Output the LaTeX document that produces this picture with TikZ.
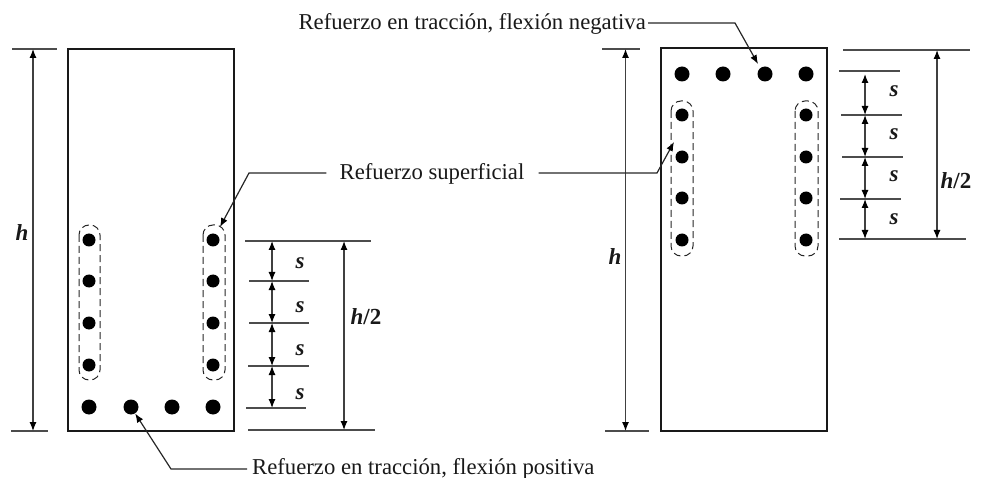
\documentclass[tikz,border=0pt]{standalone}
\usepackage{fontspec}
\setmainfont{Liberation Serif}
\usetikzlibrary{arrows.meta}
\tikzset{
  x=1pt,y=-1pt,
  beam/.style={draw=black!90,line width=2.2pt},
  bar/.style={circle,fill=black,inner sep=0pt,minimum size=#1},
  tie/.style={draw=black!85,dash pattern=on 7pt off 4pt,line width=1pt,rounded corners=10pt},
  dimline/.style={draw=black!70,line width=1.3pt},
  dimarrow/.style={draw=black!75,line width=1.2pt,{Latex[length=9pt,width=7pt,black]}-{Latex[length=9pt,width=7pt,black]}},
  leader/.style={draw=black!85,line width=1.2pt},
  leaderarrow/.style={leader,-{Latex[length=9pt,width=7pt,black]}},
  lab/.style={font=\fontsize{22.7}{26}\selectfont,inner sep=0pt,text=black!90},
  sym/.style={font=\fontsize{23}{26}\selectfont\bfseries\itshape,inner sep=0pt,text=black!90},
  dimnum/.style={font=\fontsize{23}{26}\selectfont\bfseries,inner sep=0pt,text=black!90},
}
\begin{document}
\begin{tikzpicture}
\useasboundingbox (0,0) rectangle (982,478);
% left beam
\draw[beam] (68,49) rectangle (234,431);
\foreach \n/\x in {a/89,b/131,c/172,d/213}{\node[bar=15pt] (L\n) at (\x,407) {};}
\foreach \n/\y in {1/240,2/281,3/323,4/365}{
  \node[bar=13pt] (LL\n) at (89,\y) {};
  \node[bar=13pt] (LR\n) at (213,\y) {};
}
\draw[tie] (79,225) rectangle (100,380);
\draw[tie] (203,225) rectangle (225,380);
% left h
\coordinate (lht0) at (12,49); \coordinate (lht1) at (57,49);
\coordinate (lhb0) at (11,431); \coordinate (lhb1) at (48,431);
\draw[dimline] (lht0)--(lht1);
\draw[dimline] (lhb0)--(lhb1);
\draw[dimarrow] (33,49)--(33,431);
\node[sym] (lh) at (22,233) {h};
% left spacing
\coordinate (a0) at (245,241); \coordinate (a1) at (371,241);
\coordinate (b0) at (249,281); \coordinate (b1) at (309,281);
\coordinate (c0) at (249,323); \coordinate (c1) at (309,323);
\coordinate (d0) at (248,366); \coordinate (d1) at (309,366);
\coordinate (e0) at (246,408); \coordinate (e1) at (306,408);
\coordinate (f0) at (248,430); \coordinate (f1) at (375,430);
\foreach \p in {a,b,c,d,e,f}{\draw[dimline] (\p0)--(\p1);}
\draw[dimarrow] (272,241)--(272,281);
\draw[dimarrow] (272,281)--(272,323);
\draw[dimarrow] (272,323)--(272,366);
\draw[dimarrow] (272,366)--(272,408);
\draw[dimarrow] (344,241)--(344,430);
\foreach \n/\y in {1/263,2/307,3/350,4/394}{\node[sym] (ls\n) at (300,\y) {s};}
\node[dimnum] (lh2) at (366,317) {\textit{h}/2};
% right beam
\draw[beam] (661,48) rectangle (827,431);
\foreach \n/\x in {a/682,b/723,c/765,d/806}{\node[bar=15pt] (R\n) at (\x,74) {};}
\foreach \n/\y in {1/115,2/157,3/198,4/240}{
  \node[bar=13pt] (RL\n) at (682,\y) {};
  \node[bar=13pt] (RR\n) at (806,\y) {};
}
\draw[tie] (671,101) rectangle (693,256);
\draw[tie] (795,101) rectangle (818,256);
% right h
\coordinate (rht0) at (602,49); \coordinate (rht1) at (640,49);
\coordinate (rhb0) at (605,431); \coordinate (rhb1) at (649,431);
\draw[dimline] (rht0)--(rht1);
\draw[dimline] (rhb0)--(rhb1);
\draw[dimarrow] (625.5,49)--(625.5,431);
\node[sym] (rh) at (615,257) {h};
% right spacing
\coordinate (p0) at (843,50); \coordinate (p1) at (970,50);
\coordinate (q0) at (839,71); \coordinate (q1) at (900,71);
\coordinate (r0) at (841,115); \coordinate (r1) at (902,115);
\coordinate (t0) at (842,157); \coordinate (t1) at (903,157);
\coordinate (u0) at (840,199); \coordinate (u1) at (901,199);
\coordinate (v0) at (839,239); \coordinate (v1) at (966,239);
\foreach \p in {p,q,r,t,u,v}{\draw[dimline] (\p0)--(\p1);}
\draw[dimarrow] (865,74)--(865,115);
\draw[dimarrow] (865,115)--(865,157);
\draw[dimarrow] (865,157)--(865,199);
\draw[dimarrow] (865,199)--(865,239);
\draw[dimarrow] (937,50)--(937,239);
\foreach \n/\y in {1/91,2/134,3/176,4/219}{\node[sym] (rs\n) at (894,\y) {s};}
\node[dimnum] (rh2) at (956,181) {\textit{h}/2};
% labels and leaders
\node[lab,anchor=east] (neg) at (646,24) {Refuerzo en tracción, flexión negativa};
\node[lab] (sup) at (432,174) {Refuerzo superficial};
\node[lab,anchor=west] (pos) at (252,469) {Refuerzo en tracción, flexión positiva};
\coordinate (negk) at (735,23); \coordinate (negt) at (758,64);
\draw[leaderarrow] ([xshift=2pt,yshift=1pt]neg.east) -- (negk) -- (negt);
\coordinate (supr) at (657,173); \coordinate (suprt) at (674,142);
\draw[leaderarrow] ([xshift=14pt,yshift=1pt]sup.east) -- (supr) -- (suprt);
\coordinate (supl) at (249,173); \coordinate (suplt) at (220,227);
\draw[leaderarrow] ([xshift=-13pt,yshift=1pt]sup.west) -- (supl) -- (suplt);
\coordinate (posk) at (171,469);
\draw[leaderarrow] ([xshift=-5pt]pos.west) -- (posk) -- (Lb);
\end{tikzpicture}
\end{document}
